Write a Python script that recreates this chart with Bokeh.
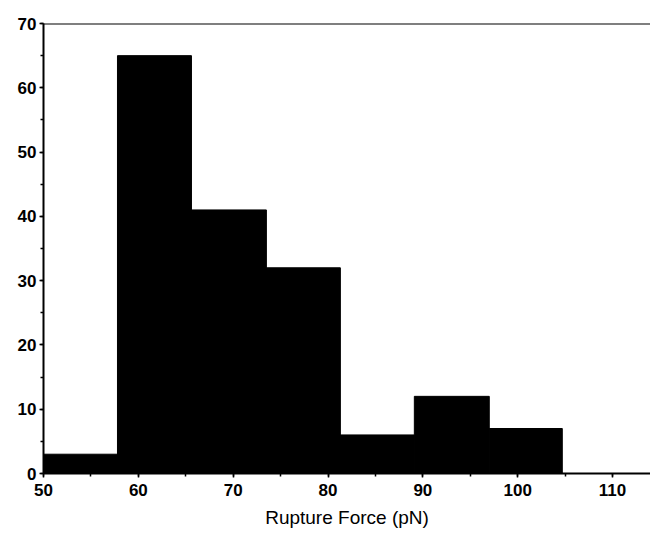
from bokeh.plotting import figure
from bokeh.models import Range1d, SingleIntervalTicker, Span
from bokeh.embed import file_html
from bokeh.resources import INLINE

# Histogram data
bin_left = [50.0, 57.8, 65.6, 73.5, 81.3, 89.1, 97.0]
bin_right = [57.8, 65.6, 73.5, 81.3, 89.1, 97.0, 104.7]
counts = [3, 65, 41, 32, 6, 12, 7]
x_label = "Rupture Force (pN)"

p = figure(width=650, height=534, output_backend="svg", toolbar_location=None,
           x_range=Range1d(50, 114.0), y_range=Range1d(0, 70),
           min_border_left=43, min_border_right=0, min_border_top=23, min_border_bottom=61)
p.outline_line_color = None
p.xgrid.visible = False
p.ygrid.visible = False
p.background_fill_color = "white"

p.quad(left=bin_left, right=bin_right, bottom=[0] * len(counts), top=counts,
       fill_color="black", line_color="black", line_width=1)

p.add_layout(Span(location=70, dimension="width", line_color="black", line_width=2))

for ax in (p.xaxis[0], p.yaxis[0]):
    ax.ticker = SingleIntervalTicker(interval=10, num_minor_ticks=2)
    ax.axis_line_width = 2
    ax.axis_line_color = "black"
    ax.major_tick_line_width = 1.5
    ax.major_tick_in = 0
    ax.major_tick_out = 4
    ax.minor_tick_in = 0
    ax.minor_tick_out = 3
    ax.minor_tick_line_width = 1.5
    ax.major_label_text_font = "Liberation Sans"
    ax.major_label_text_font_style = "bold"
    ax.major_label_text_font_size = "17px"
    ax.major_label_text_color = "black"

p.xaxis[0].major_label_standoff = 6
p.yaxis[0].major_label_standoff = 3

p.xaxis[0].axis_label = x_label
p.xaxis[0].axis_label_text_font = "Liberation Sans"
p.xaxis[0].axis_label_text_font_style = "normal"
p.xaxis[0].axis_label_text_font_size = "19px"
p.xaxis[0].axis_label_text_color = "black"
p.xaxis[0].axis_label_standoff = 8

open("out.html", "w").write(file_html(p, INLINE))
